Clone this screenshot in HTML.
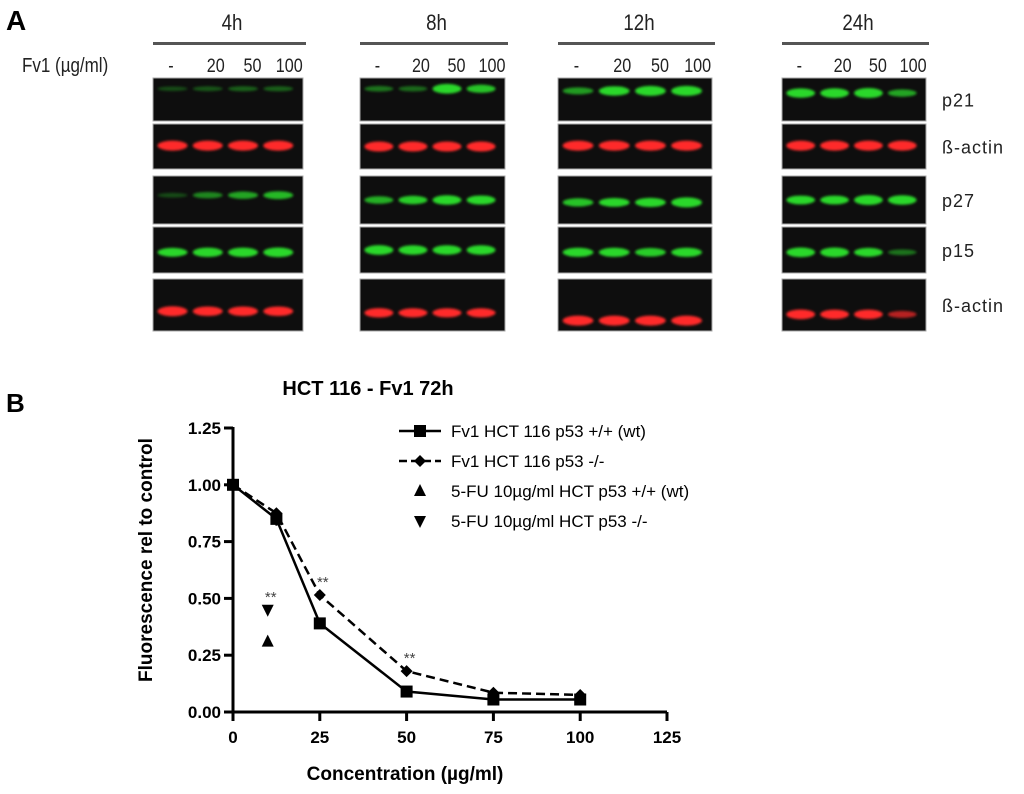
<!DOCTYPE html>
<html><head><meta charset="utf-8"><style>
body{margin:0;background:#fff;}
svg{display:block;font-family:"Liberation Sans",sans-serif;}
</style></head><body>
<svg id="fig" width="1024" height="794" viewBox="0 0 1024 794" xmlns="http://www.w3.org/2000/svg">
<defs><filter id="blur" x="-20%" y="-100%" width="140%" height="300%"><feGaussianBlur stdDeviation="1.3"/></filter></defs>
<text x="6" y="30" font-size="28" font-weight="bold">A</text>
<text x="6" y="412" font-size="26" font-weight="bold">B</text>
<g id="blots"></g>
<g id="chart"></g>
</svg>
<script>
const NS="http://www.w3.org/2000/svg";
function mk(tag,attrs,parent,txt){const e=document.createElementNS(NS,tag);for(const k in attrs)e.setAttribute(k,attrs[k]);if(txt!==undefined)e.textContent=txt;parent.appendChild(e);return e;}

/* ---------- Blots ---------- */
const timeLabels=["4h","8h","12h","24h"];
const doseLabels=["-","20","50","100"];
const proteinLabels=["p21","ß-actin","p27","p15","ß-actin"];
const bandIntensity=[
 [[0.1,0.15,0.2,0.2],[0.3,0.25,0.95,0.7],[0.5,0.9,1,1],[0.9,0.95,1,0.55]],
 [[1,1,1,1],[1,1,1,1],[1,1,1,1],[1,1,1,1]],
 [[0.1,0.4,0.55,0.65],[0.6,0.75,0.9,0.85],[0.7,0.8,0.85,1],[0.8,0.8,1,0.9]],
 [[0.8,0.9,0.9,0.95],[0.95,0.9,0.9,0.9],[0.85,0.85,0.75,0.85],[0.95,0.95,0.8,0.3]],
 [[1,0.9,0.9,0.9],[0.9,0.85,0.85,0.85],[1,1,1,1],[0.95,0.9,0.9,0.5]]
];
const blots=document.getElementById('blots');
const cols=[[153,303],[360,505],[558,712],[782,926]];
const rows=[[78,121],[124,169],[176,224],[227,273],[279,331]];
const bandY=[[0.25,0.25,0.3,0.35],[0.48,0.5,0.48,0.48],[0.4,0.5,0.55,0.5],[0.55,0.5,0.55,0.55],[0.62,0.65,0.8,0.68]];
cols.forEach((c,ci)=>{
  const cx=(c[0]+c[1])/2;
  const h=mk('text',{x:0,y:0,'font-size':22,'text-anchor':'middle',fill:'#222',transform:`translate(${cx+4},30) scale(0.85,1)`},blots,timeLabels[ci]);
  
  
  mk('rect',{x:c[0],y:42,width:c[1]-c[0]+3,height:3,fill:'#555'},blots);
  const w=c[1]-c[0];
  doseLabels.forEach((d,di)=>{
    const t=mk('text',{x:0,y:0,'font-size':19,'text-anchor':'middle',fill:'#222',transform:`translate(${c[0]+w*(0.12+di*0.245)+(di?8:0)},72) scale(0.85,1)`},blots,d);
    
    
  });
  rows.forEach((r,ri)=>{
    const g=mk('g',{},blots);
    
    
    mk('rect',{x:c[0],y:r[0],width:w,height:r[1]-r[0],fill:'#0e0e0e',stroke:'#aaa','stroke-width':1},g);
    const col=(ri===1||ri===4)?'#ff2a2a':'#2bd82b';
    for(let l=0;l<4;l++){
      const a=bandIntensity[ri][ci][l];
      const bx=c[0]+w*(0.13+l*0.235);
      const by=r[0]+(r[1]-r[0])*bandY[ri][ci];
      mk('ellipse',{cx:bx,cy:by,rx:w*0.1,ry:2+3*a,fill:col,opacity:Math.min(1,0.2+a),filter:'url(#blur)'},g);
    }
  });
});
proteinLabels.forEach((p,i)=>{
  const t=mk('text',{x:942,y:(rows[i][0]+rows[i][1])/2+7,'font-size':18,fill:'#222','letter-spacing':'1'},blots,p);
  
  
});
const fl=mk('text',{x:0,y:0,'font-size':20,fill:'#222',transform:'translate(22,72) scale(0.85,1)'},blots,"Fv1 (µg/ml)");



/* ---------- Chart ---------- */
const concentrations=[0,12.5,25,50,75,100];
const wtValues=[1.0,0.85,0.39,0.09,0.055,0.055];
const wtErr=[0,0.03,0.015,0.01,0.005,0.005];
const koValues=[1.0,0.875,0.515,0.18,0.085,0.075];
const fuConc=[10];
const fuWt=[0.31];
const fuKo=[0.45];
const sigLabels=[{x:10,y:0.52},{x:25,y:0.585},{x:50,y:0.25}];
const xTicks=[0,25,50,75,100,125];
const yTicks=[0,0.25,0.5,0.75,1.0,1.25];
const chart=document.getElementById('chart');
const X=v=>233+v*(667-233)/125;
const Y=v=>712-v*(712-428)/1.25;

const title=mk('text',{x:368,y:395,'font-size':20,'font-weight':'bold','text-anchor':'middle'},chart,"HCT 116 - Fv1 72h");

const ax=mk('g',{},chart);
mk('line',{x1:X(0),y1:Y(1.25)-1,x2:X(0),y2:Y(0)+2,stroke:'#000','stroke-width':3},ax);
mk('line',{x1:X(0)-2,y1:Y(0),x2:X(125),y2:Y(0),stroke:'#000','stroke-width':3},ax);
xTicks.forEach(t=>{
  mk('line',{x1:X(t),y1:Y(0),x2:X(t),y2:Y(0)+9,stroke:'#000','stroke-width':3},ax);
  const e=mk('text',{x:X(t),y:Y(0)+31,'font-size':17,'font-weight':'bold','text-anchor':'middle'},ax,String(t));
  
});
yTicks.forEach(t=>{
  mk('line',{x1:X(0)-9,y1:Y(t),x2:X(0),y2:Y(t),stroke:'#000','stroke-width':3},ax);
  const e=mk('text',{x:X(0)-12,y:Y(t)+6,'font-size':17,'font-weight':'bold','text-anchor':'end'},ax,t.toFixed(2));
  
});
const xt=mk('text',{x:405,y:780,'font-size':19,'font-weight':'bold','text-anchor':'middle'},chart,"Concentration (µg/ml)");

const yt=mk('text',{x:0,y:0,'font-size':19,'font-weight':'bold','text-anchor':'middle',transform:'translate(152,560) rotate(-90)'},chart,"Fluorescence rel to control");


function pts(vals){return concentrations.map((c,i)=>X(c)+','+Y(vals[i])).join(' ');}
const ko=mk('polyline',{points:pts(koValues),fill:'none',stroke:'#000','stroke-width':2.5,'stroke-dasharray':'9,5'},chart);

const wt=mk('polyline',{points:pts(wtValues),fill:'none',stroke:'#000','stroke-width':2.5},chart);

concentrations.forEach((c,i)=>{
  if(wtErr[i]>0){mk('line',{x1:X(c),y1:Y(wtValues[i]+wtErr[i]),x2:X(c),y2:Y(wtValues[i]-wtErr[i]),stroke:'#000','stroke-width':2},chart);}
  const s=mk('rect',{x:X(c)-6,y:Y(wtValues[i])-6,width:12,height:12,fill:'#000'},chart);
  
  const x=X(c),y=Y(koValues[i]);
  const d=mk('polygon',{points:`${x},${y-6} ${x+6},${y} ${x},${y+6} ${x-6},${y}`,fill:'#000'},chart);
  
});
fuConc.forEach((c,i)=>{
  const x=X(c),y=Y(fuWt[i]);
  const u=mk('polygon',{points:`${x},${y-7} ${x+6},${y+5} ${x-6},${y+5}`,fill:'#000'},chart);
  
  const y2=Y(fuKo[i]);
  const dn=mk('polygon',{points:`${x-6},${y2-5} ${x+6},${y2-5} ${x},${y2+7}`,fill:'#000'},chart);
  
});
sigLabels.forEach(s=>{
  const e=mk('text',{x:X(s.x)+3,y:Y(s.y)+8,'font-size':15,'text-anchor':'middle',fill:'#444'},chart,"**");
  
});
/* legend */
const lg=mk('g',{},chart);
const legY=[431,461,491,521];
const legText=["Fv1 HCT 116 p53 +/+ (wt)","Fv1 HCT 116 p53 -/-","5-FU 10µg/ml HCT p53 +/+ (wt)","5-FU 10µg/ml HCT p53 -/-"];
mk('line',{x1:399,y1:legY[0],x2:441,y2:legY[0],stroke:'#000','stroke-width':2.5},lg);
mk('rect',{x:414,y:legY[0]-6,width:12,height:12,fill:'#000'},lg);
mk('line',{x1:399,y1:legY[1],x2:441,y2:legY[1],stroke:'#000','stroke-width':2.5,'stroke-dasharray':'8,4'},lg);
mk('polygon',{points:`420,${legY[1]-6} 426,${legY[1]} 420,${legY[1]+6} 414,${legY[1]}`,fill:'#000'},lg);
mk('polygon',{points:`420,${legY[2]-7} 426,${legY[2]+5} 414,${legY[2]+5}`,fill:'#000'},lg);
mk('polygon',{points:`414,${legY[3]-5} 426,${legY[3]-5} 420,${legY[3]+7}`,fill:'#000'},lg);
legText.forEach((t,i)=>{
  const e=mk('text',{x:451,y:legY[i]+6,'font-size':17},lg,t);
  
});
</script>
</body></html>
